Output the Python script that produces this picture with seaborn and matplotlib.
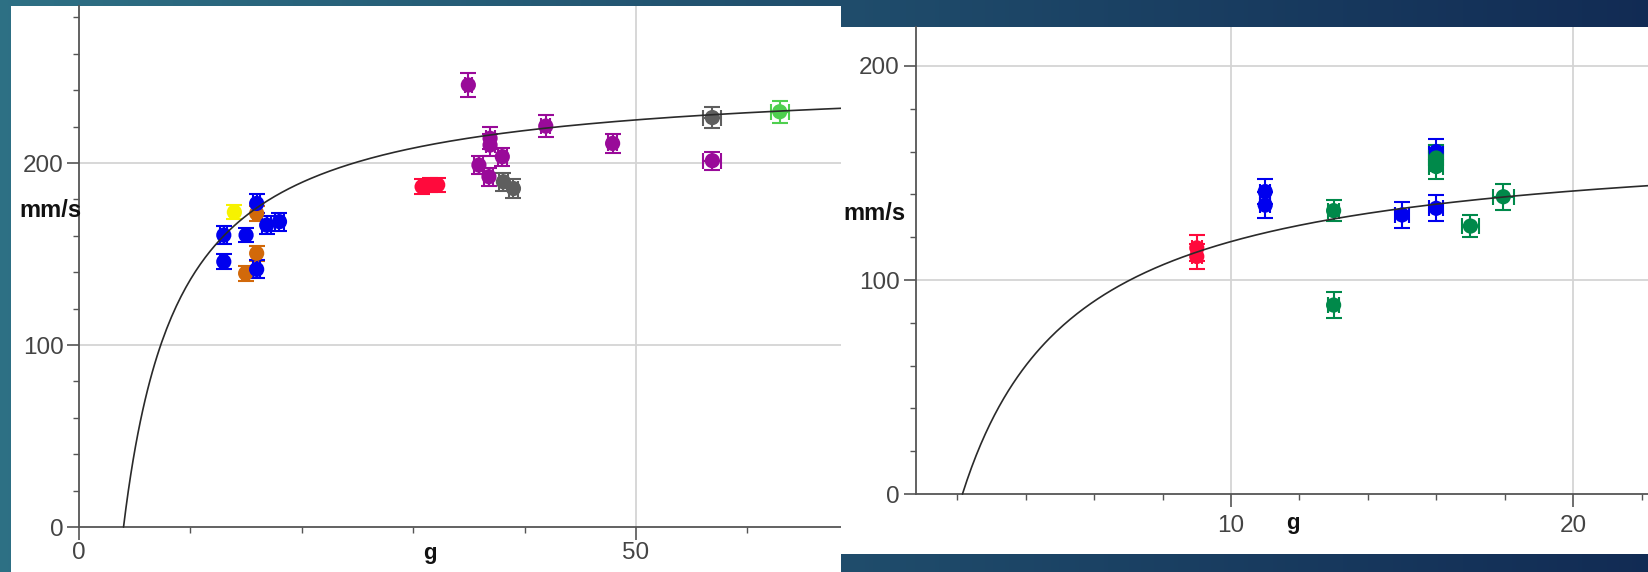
import numpy as np
import pandas as pd
import matplotlib
matplotlib.use("Agg")
import matplotlib.pyplot as plt
import seaborn as sns

# ---- left panel data (g vs mm/s) ----
left_grp = ["orange", "orange", "orange",
            "blue", "blue", "blue", "blue", "blue", "blue", "blue",
            "yellow",
            "red", "red", "red",
            "purple", "purple", "purple", "purple", "purple", "purple", "purple", "purple", "purple",
            "gray", "gray", "gray",
            "lightgreen"]
left_x = [15.95, 15.95, 14.96,
          13.0, 15.0, 15.95, 16.85, 18.0, 13.0, 15.95,
          13.95,
          30.8, 31.5, 32.2,
          34.95, 36.9, 36.9, 35.9, 38.0, 36.8, 41.9, 47.9, 56.85,
          38.1, 39.0, 56.85,
          62.9]
left_y = [172.4, 150.4, 139.4,
          160.4, 160.4, 177.8, 165.9, 167.8, 145.8, 141.6,
          173.0,
          187.0, 188.0, 188.0,
          242.9, 213.6, 209.9, 198.9, 203.5, 192.5, 220.3, 210.8, 201.3,
          189.7, 186.0, 225.0,
          228.2]
left_yerr = [4, 4, 4,
             5, 4, 5, 5, 5, 4, 5,
             4,
             4, 4, 4,
             6.5, 6, 6, 5, 5, 5, 6, 5, 5,
             5, 5, 6,
             6]
left_xerr = [0.3, 0.3, 0.3,
             0.3, 0.3, 0.3, 0.4, 0.4, 0.3, 0.3,
             0.3,
             0.3, 0.3, 0.3,
             0.3, 0.4, 0.4, 0.4, 0.4, 0.4, 0.4, 0.4, 0.8,
             0.4, 0.4, 0.8,
             0.8]

# ---- right panel data ----
right_grp = ["red", "red",
             "blue", "blue", "blue", "blue", "blue",
             "green", "green", "green", "green", "green", "green"]
right_x = [9.0, 9.0,
           11.0, 11.0, 15.0, 16.0, 16.0,
           13.0, 13.0, 16.0, 16.0, 17.0, 17.96]
right_y = [115.0, 111.0,
           141.3, 135.0, 130.4, 133.5, 160.0,
           132.4, 88.3, 157.0, 153.0, 125.2, 138.9]
right_yerr = [6, 6,
              6, 6, 6, 6, 6,
              5, 6, 6, 6, 5, 6]
right_xerr = [0.15, 0.15,
              0.15, 0.15, 0.2, 0.2, 0.2,
              0.15, 0.15, 0.2, 0.2, 0.25, 0.3]

# fitted saturation curves: v = vmax*(g-g0)/(k+(g-g0))
left_fit = {"g0": 4.0, "vmax": 247.7, "k": 4.93}
right_fit = {"g0": 2.15, "vmax": 168.0, "k": 3.33}

palette = {"blue": "#0000ee", "orange": "#d2690a", "yellow": "#f7f200",
           "red": "#ff0a3c", "purple": "#990a99", "gray": "#5e5e5e",
           "lightgreen": "#4fcf4f", "green": "#00894a"}

sns.set_style("white")
plt.rcParams["font.family"] = ["Liberation Sans", "DejaVu Sans"]

fig = plt.figure(figsize=(16.48, 5.72), dpi=100)

# background gradient
bg = fig.add_axes([0, 0, 1, 1], zorder=-5)
t = np.linspace(0, 1, 400)
c0 = np.array([0.18, 0.44, 0.52])
c1 = np.array([0.07, 0.17, 0.33])
grad = (1 - t)[:, None] * c0 + t[:, None] * c1
img = np.repeat(grad[None, :, :], 50, axis=0)
bg.imshow(img, aspect="auto", extent=[0, 1, 0, 1])
bg.set_axis_off()

TICK_C = "#444444"
SPINE_C = "#555555"
GRID_C = "#d4d4d4"


def style_axes(ax, xorig, xlim, ylim, xmaj, xmin, ymaj, ymin):
    ax.set_facecolor("white")
    ax.set_xlim(*xlim)
    ax.set_ylim(*ylim)
    for s in ["top", "right"]:
        ax.spines[s].set_visible(False)
    ax.spines["left"].set_position(("data", xorig))
    ax.spines["bottom"].set_position(("data", 0))
    ax.spines["left"].set_bounds(0, ylim[1])
    ax.spines["bottom"].set_bounds(xorig, xlim[1])
    for s in ["left", "bottom"]:
        ax.spines[s].set_color(SPINE_C)
        ax.spines[s].set_linewidth(1.3)
    ax.set_xticks(xmaj)
    ax.set_xticks(xmin, minor=True)
    ax.set_yticks(ymaj)
    ax.set_yticks(ymin, minor=True)
    ax.tick_params(which="both", bottom=True, left=True, top=False, right=False)
    ax.tick_params(which="major", direction="out", length=9, width=1.2,
                   color=SPINE_C, labelsize=17.5, labelcolor=TICK_C, pad=2)
    ax.tick_params(which="minor", direction="out", length=4.5, width=1.0,
                   color=SPINE_C)
    ax.set_xlabel("")
    ax.set_ylabel("")


def draw_points(ax, xs, ys, xe, ye, grp):
    df = pd.DataFrame({"g": xs, "v": ys, "xe": xe, "ye": ye, "grp": grp})
    for _, r in df.iterrows():
        ax.errorbar(r["g"], r["v"], yerr=r["ye"], xerr=r["xe"], fmt="none",
                    ecolor=palette[r["grp"]], elinewidth=1.5, capsize=5.5,
                    capthick=1.5, zorder=3)
    sns.scatterplot(data=df, x="g", y="v", hue="grp", palette=palette,
                    s=120, linewidth=0, legend=False, ax=ax, zorder=4)


def draw_fit(ax, fit, xmax):
    gg = np.linspace(fit["g0"], xmax, 300)
    d = gg - fit["g0"]
    vv = fit["vmax"] * d / (fit["k"] + d)
    sns.lineplot(x=gg, y=vv, color="#2a2a2a", linewidth=1.2, ax=ax,
                 zorder=5, sort=False)


# ---- left panel ----
axL = fig.add_axes([11 / 1648, 0, 830 / 1648, 566 / 572])
L_xlim = (-6.1, 68.4)
L_ylim = (-24.7, 286.3)
style_axes(axL, 0, L_xlim, L_ylim, [0, 50], [10, 20, 30, 40, 60],
           [0, 100, 200], list(range(20, 281, 20)))
axL.hlines([100, 200], 0, L_xlim[1], color=GRID_C, lw=1.3, zorder=1)
axL.vlines([50], 0, L_ylim[1], color=GRID_C, lw=1.3, zorder=1)
draw_points(axL, left_x, left_y, left_xerr, left_yerr, left_grp)
draw_fit(axL, left_fit, L_xlim[1])
axL.set_xlabel("")
axL.set_ylabel("")
axL.text(0.2, 174, "mm/s", ha="right", va="center", fontsize=17,
         fontweight="bold", color="#111111")
axL.text(31.5, -14.3, "g", ha="center", va="center", fontsize=16,
         fontweight="bold", color="#111111")

# ---- right panel ----
axR = fig.add_axes([841 / 1648, 18 / 572, 807 / 1648, 527 / 572])
R_xlim = (-1.4, 22.19)
R_ylim = (-28.0, 218.2)
style_axes(axR, 0.8, R_xlim, R_ylim, [10, 20], [2, 4, 6, 8, 12, 14, 16, 18, 22],
           [0, 100, 200], list(range(20, 201, 20)))
axR.tick_params(axis="x", which="major", pad=6)
axR.tick_params(axis="y", which="major", pad=3)
axR.hlines([100, 200], 0.8, R_xlim[1], color=GRID_C, lw=1.3, zorder=1)
axR.vlines([10, 20], 0, R_ylim[1], color=GRID_C, lw=1.3, zorder=1)
draw_points(axR, right_x, right_y, right_xerr, right_yerr, right_grp)
draw_fit(axR, right_fit, R_xlim[1])
axR.set_xlabel("")
axR.set_ylabel("")
axR.text(0.5, 131, "mm/s", ha="right", va="center", fontsize=17,
         fontweight="bold", color="#111111")
axR.text(11.8, -13.6, "g", ha="center", va="center", fontsize=16,
         fontweight="bold", color="#111111")

fig.savefig("out.png", dpi=100)
